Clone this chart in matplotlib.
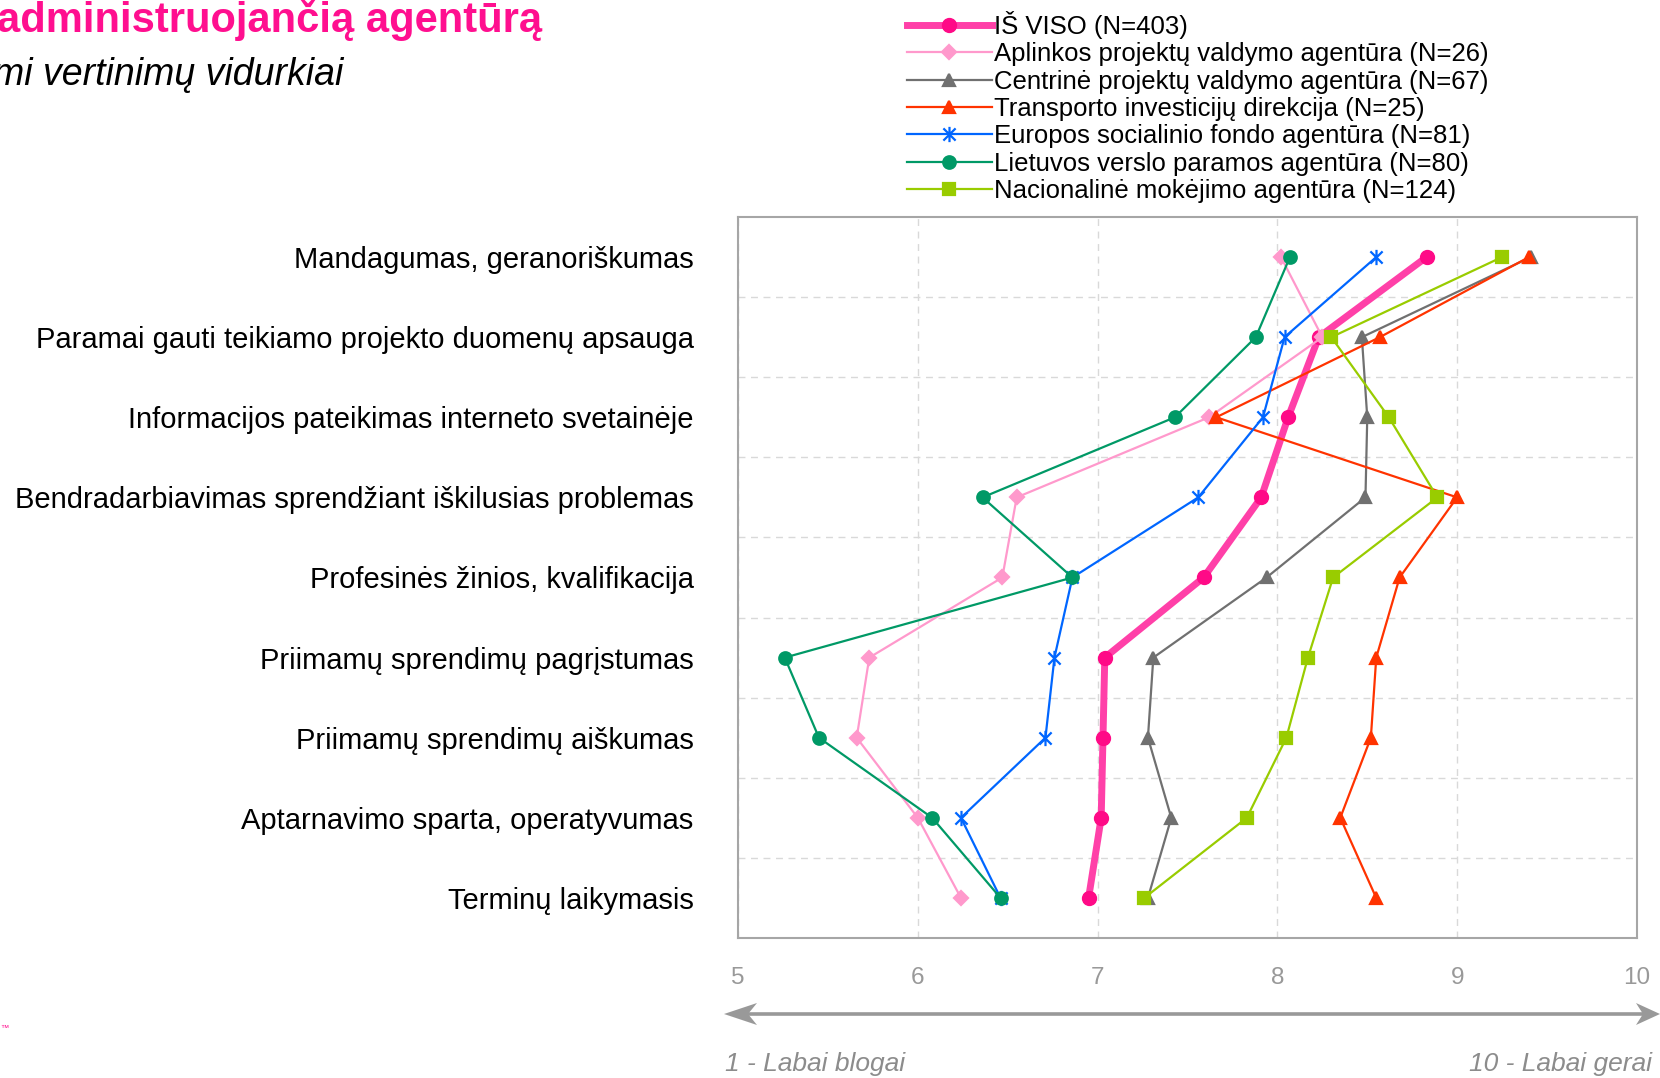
import numpy as np
import matplotlib.pyplot as plt
from matplotlib.path import Path
from matplotlib.patches import Polygon
from matplotlib.lines import Line2D

plt.rcParams['font.family'] = ['Liberation Sans', 'DejaVu Sans']

# kategorijos (iš viršaus į apačią)
categories = [
    'Mandagumas, geranoriškumas',
    'Paramai gauti teikiamo projekto duomenų apsauga',
    'Informacijos pateikimas interneto svetainėje',
    'Bendradarbiavimas sprendžiant iškilusias problemas',
    'Profesinės žinios, kvalifikacija',
    'Priimamų sprendimų pagrįstumas',
    'Priimamų sprendimų aiškumas',
    'Aptarnavimo sparta, operatyvumas',
    'Terminų laikymasis',
]

labels = [
    'IŠ VISO (N=403)',
    'Aplinkos projektų valdymo agentūra (N=26)',
    'Centrinė projektų valdymo agentūra (N=67)',
    'Transporto investicijų direkcija (N=25)',
    'Europos socialinio fondo agentūra (N=81)',
    'Lietuvos verslo paramos agentūra (N=80)',
    'Nacionalinė mokėjimo agentūra (N=124)',
]

is_viso = [8.83, 8.23, 8.06, 7.91, 7.59, 7.04, 7.03, 7.02, 6.95]
aplinkos = [8.02, 8.25, 7.62, 6.55, 6.47, 5.73, 5.66, 6.00, 6.24]
centrine = [9.41, 8.47, 8.50, 8.49, 7.94, 7.31, 7.28, 7.41, 7.28]
transporto = [9.40, 8.57, 7.66, 9.00, 8.68, 8.55, 8.52, 8.35, 8.55]
europos = [8.55, 8.04, 7.92, 7.56, 6.86, 6.76, 6.71, 6.24, 6.46]
lietuvos = [8.07, 7.88, 7.43, 6.36, 6.86, 5.26, 5.45, 6.08, 6.46]
nacionaline = [9.25, 8.30, 8.62, 8.89, 8.31, 8.17, 8.05, 7.83, 7.26]

x_ticks = [5, 6, 7, 8, 9, 10]

W, H = 1660, 1078

# žvaigždutės markeris (kaip Excel)
star = Path([(0, -1), (0, 1), (-0.8, -0.8), (0.8, 0.8), (-0.8, 0.8), (0.8, -0.8)],
            [Path.MOVETO, Path.LINETO, Path.MOVETO, Path.LINETO, Path.MOVETO, Path.LINETO])

fig = plt.figure(figsize=(16.6, 10.78), dpi=100)
ax = fig.add_axes([0.4446, 0.1299, 0.5415, 0.6688])

y = np.arange(len(categories))

ax.plot(is_viso, y, color='#ff40a8', lw=5, marker='o', ms=10,
        mfc='#ff0a87', mec='#ff0a87', label=labels[0], zorder=3)
styles = [
    (aplinkos, '#ff99cc', 'D', 7),
    (centrine, '#707070', '^', 9),
    (transporto, '#ff3300', '^', 9),
    (europos, '#0066ff', star, 11),
    (lietuvos, '#009966', 'o', 9),
    (nacionaline, '#99cc00', 's', 9),
]
for i, (vals, col, mk, ms) in enumerate(styles):
    ax.plot(vals, y, color=col, lw=1.6, marker=mk, ms=ms, mfc=col, mec=col,
            mew=1.6, label=labels[i + 1], zorder=4 + i)

ax.set_xlim(5, 10)
ax.set_ylim(len(categories) - 0.5, -0.5)
ax.set_xticks(x_ticks)
ax.set_xticklabels([str(t) for t in x_ticks])
ax.set_yticks(y)
ax.set_yticklabels(categories, fontsize=21)
ax.set_yticks(np.arange(0.5, len(categories) - 1, 1), minor=True)
ax.tick_params(axis='y', which='both', length=0, pad=32)
ax.tick_params(axis='x', length=0, pad=21, labelsize=17.5, labelcolor='#999999')

ax.grid(True, axis='x', which='major', color='#d9d9d9', ls=(0, (5, 4)), lw=1)
ax.grid(True, axis='y', which='minor', color='#d9d9d9', ls=(0, (5, 4)), lw=1)
ax.set_axisbelow(True)
for sp in ax.spines.values():
    sp.set_color('#a6a6a6')
    sp.set_linewidth(1.5)

fig.legend(loc='upper left', bbox_to_anchor=(907 / W, 1 - 11 / H),
           frameon=False, fontsize=18.5, borderpad=0, borderaxespad=0,
           labelspacing=0.13, handlelength=3.3, handletextpad=0.1)

# rodyklė po ašimi (Excel stiliaus antgaliai)
ay = 1014
fig.add_artist(Line2D([748 / W, 1642 / W], [1 - ay / H, 1 - ay / H],
                      transform=fig.transFigure, color='#999999', lw=2.6))
left_head = [(724, ay), (757, ay - 11), (748, ay), (757, ay + 11)]
right_head = [(1660, ay), (1636, ay - 11), (1643, ay), (1636, ay + 11)]
for pts in (left_head, right_head):
    fig.add_artist(Polygon([(px / W, 1 - py / H) for px, py in pts], closed=True,
                           transform=fig.transFigure, facecolor='#999999', edgecolor='none'))

fig.text(725 / W, 1 - 1064 / H, '1 - Labai blogai', fontsize=19, style='italic',
         color='#8c8c8c', ha='left', va='center')
fig.text(1652 / W, 1 - 1064 / H, '10 - Labai gerai', fontsize=19, style='italic',
         color='#8c8c8c', ha='right', va='center')

# antraštė (iškirpta kairėje)
fig.text(-0.002, 1 - 20 / H, 'administruojančią agentūrą', fontsize=30, fontweight='bold',
         color='#ff0f8f', ha='left', va='center')
fig.text(-0.004, 1 - 75 / H, 'mi vertinimų vidurkiai', fontsize=27, style='italic',
         color='black', ha='left', va='center')
fig.text(0.0, 1 - 1029 / H, '™', fontsize=6, color='#ff0f8f', ha='left', va='center')

fig.savefig('out.png', dpi=100)
